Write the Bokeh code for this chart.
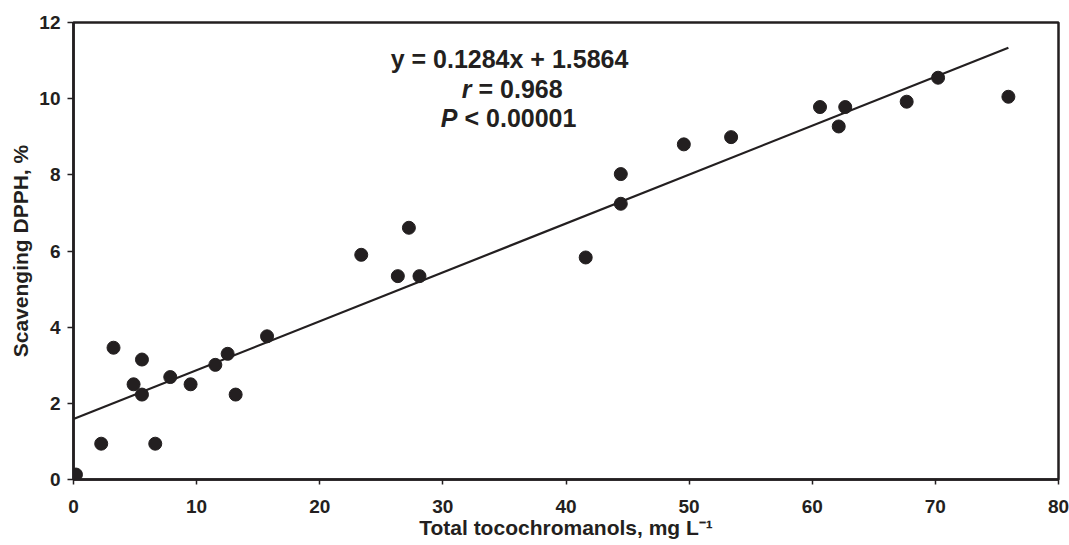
from bokeh.plotting import figure
from bokeh.models import Range1d, FixedTicker, Label
from bokeh.embed import file_html
from bokeh.resources import INLINE

# Data
tocochromanols = [0.2, 2.25, 3.25, 4.88, 5.56, 5.56, 6.64, 7.86, 9.51, 11.52, 12.52, 13.17,
                  15.72, 23.37, 26.34, 27.24, 28.1, 41.6, 44.45, 44.45, 49.57, 53.41,
                  60.63, 62.15, 62.68, 67.67, 70.22, 75.93]
dpph = [0.13, 0.94, 3.46, 2.5, 3.15, 2.23, 0.94, 2.69, 2.5, 3.01, 3.30, 2.23,
        3.76, 5.90, 5.34, 6.61, 5.34, 5.83, 8.02, 7.24, 8.80, 8.99,
        9.78, 9.27, 9.78, 9.92, 10.55, 10.05]
slope = 0.1284
intercept = 1.5864
x_ticks = [0, 10, 20, 30, 40, 50, 60, 70, 80]
y_ticks = [0, 2, 4, 6, 8, 10, 12]

INK = "#231f20"
FONT = "Liberation Sans"

p = figure(width=1069, height=545, output_backend="svg", toolbar_location=None,
           x_range=Range1d(0, 80), y_range=Range1d(0, 12),
           min_border_left=73, min_border_right=11, min_border_top=22, min_border_bottom=66)
p.background_fill_color = "white"
p.border_fill_color = "white"
p.outline_line_color = INK
p.outline_line_width = 2.5
p.grid.visible = False

for ax in (p.xaxis[0], p.yaxis[0]):
    ax.axis_line_color = INK
    ax.axis_line_width = 2.5
    ax.major_tick_line_color = INK
    ax.major_tick_line_width = 1.5
    ax.major_tick_in = 0
    ax.minor_tick_line_color = None
    ax.major_label_text_font = FONT
    ax.major_label_text_font_style = "bold"
    ax.major_label_text_font_size = "19px"
    ax.major_label_text_color = INK
    ax.axis_label_text_font = FONT
    ax.axis_label_text_font_style = "bold"
    ax.axis_label_text_font_size = "21px"
    ax.axis_label_text_color = INK

p.xaxis[0].ticker = FixedTicker(ticks=x_ticks)
p.yaxis[0].ticker = FixedTicker(ticks=y_ticks)
p.xaxis[0].major_tick_out = 5
p.yaxis[0].major_tick_out = 6
p.xaxis[0].major_label_standoff = 15
p.yaxis[0].major_label_standoff = 7

p.yaxis[0].axis_label = "Scavenging DPPH, %"
p.yaxis[0].axis_label_standoff = 4
p.xaxis[0].axis_label = "Total tocochromanols, mg L\u207b\u00b9"
p.xaxis[0].axis_label_standoff = 0

# regression line
x_end = max(tocochromanols)
p.line([0, x_end], [intercept, slope * x_end + intercept], line_color=INK, line_width=2.2)

p.scatter(tocochromanols, dpph, size=13, marker="circle", fill_color=INK, line_color=INK)

# equation block
def lab(txt, x, y, align, style="bold"):
    p.add_layout(Label(x=x, y=y, x_units="screen", y_units="screen", text=txt,
                       text_align=align, text_baseline="alphabetic", text_font=FONT,
                       text_font_style=style, text_font_size="25px", text_color=INK))

lab(f"y = {slope}x + {intercept}", 436, 421, "center")
lab("r", 398, 391, "right", "bold italic")
lab("= 0.968", 405, 391, "left")
lab("P", 384, 362, "right", "bold italic")
lab("< 0.00001", 391, 362, "left")

open("out.html", "w").write(file_html(p, INLINE))
